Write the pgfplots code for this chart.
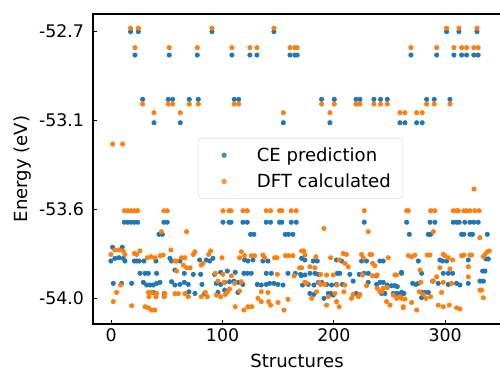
\documentclass[border=0pt]{standalone}
\usepackage{fontspec}
\setmainfont{DejaVu Sans}
\usepackage{pgfplots}
\usepackage{pgfplotstable}
\pgfplotsset{compat=1.18}
\definecolor{tabblue}{HTML}{1F77B4}
\definecolor{taborange}{HTML}{FF7F0E}

\pgfplotstableread{
x y
17.4 -52.700
24.3 -52.700
90.5 -52.700
146.2 -52.700
301.3 -52.700
312.4 -52.700
328.6 -52.700
21.3 -52.814
52.1 -52.814
77.3 -52.814
108.4 -52.814
124.6 -52.814
130.9 -52.814
160.6 -52.814
165.0 -52.814
167.1 -52.814
269.3 -52.814
292.4 -52.814
307.9 -52.814
314.8 -52.814
319.3 -52.814
325.8 -52.814
329.7 -52.814
28.2 -53.030
51.2 -53.030
55.2 -53.030
70.1 -53.030
78.2 -53.030
110.5 -53.030
114.5 -53.030
189.0 -53.030
200.4 -53.030
219.9 -53.030
223.5 -53.030
236.0 -53.030
242.0 -53.030
248.0 -53.030
283.4 -53.030
290.2 -53.030
304.3 -53.030
38.4 -53.144
62.0 -53.144
154.6 -53.144
196.5 -53.144
259.4 -53.144
263.9 -53.144
274.4 -53.144
279.4 -53.144
11.7 -53.629
14.7 -53.629
17.7 -53.629
20.7 -53.629
23.7 -53.629
47.3 -53.629
50.3 -53.629
100.4 -53.629
105.8 -53.629
107.6 -53.629
118.3 -53.629
122.2 -53.629
139.2 -53.629
143.1 -53.629
151.2 -53.629
153.3 -53.629
161.7 -53.629
166.2 -53.629
227.3 -53.629
265.4 -53.629
286.4 -53.629
290.8 -53.629
307.3 -53.629
310.3 -53.629
312.6 -53.629
317.7 -53.629
322.3 -53.629
325.8 -53.629
329.7 -53.629
42.9 -53.688
45.9 -53.688
125.2 -53.688
128.2 -53.688
156.3 -53.688
159.3 -53.688
163.2 -53.688
267.8 -53.688
284.9 -53.688
287.0 -53.688
314.8 -53.688
316.8 -53.688
322.3 -53.688
324.6 -53.688
337.9 -53.688
1.2 -53.751
9.9 -53.751
-0.3 -53.818
3.3 -53.805
6.9 -53.802
10.8 -53.805
12.3 -53.818
20.7 -53.818
22.8 -53.818
25.2 -53.818
29.4 -53.818
40.2 -53.818
52.7 -53.805
54.2 -53.818
61.7 -53.818
25.8 -53.878
30.3 -53.878
33.3 -53.878
40.8 -53.878
57.2 -53.862
65.6 -53.878
73.7 -53.883
1.8 -53.927
9.3 -53.927
18.3 -53.927
28.8 -53.922
31.8 -53.935
34.8 -53.935
37.8 -53.935
40.8 -53.927
43.8 -53.922
54.2 -53.919
57.2 -53.935
61.7 -53.932
65.6 -53.922
69.2 -53.932
37.8 -53.971
47.6 -53.976
69.8 -53.968
75.2 -53.976
79.4 -53.813
85.4 -53.813
88.4 -53.818
91.4 -53.805
119.8 -53.813
122.8 -53.818
127.3 -53.813
136.3 -53.818
140.8 -53.818
80.3 -53.883
92.9 -53.883
98.3 -53.873
104.3 -53.867
111.4 -53.873
119.2 -53.878
122.2 -53.878
125.8 -53.878
139.3 -53.878
143.8 -53.878
158.8 -53.878
165.3 -53.878
170.7 -53.890
81.5 -53.932
94.4 -53.927
98.3 -53.932
101.9 -53.922
106.3 -53.919
110.2 -53.916
114.4 -53.922
118.3 -53.932
131.2 -53.932
134.8 -53.935
139.3 -53.932
142.3 -53.927
146.2 -53.927
149.8 -53.932
154.3 -53.935
83.9 -53.976
95.9 -53.971
101.9 -53.960
113.8 -53.971
171.0 -53.805
174.0 -53.813
181.5 -53.818
185.1 -53.818
202.4 -53.813
206.9 -53.818
224.9 -53.818
229.4 -53.818
241.4 -53.818
244.4 -53.818
170.1 -53.883
174.0 -53.886
178.5 -53.878
183.0 -53.878
186.0 -53.883
203.0 -53.878
205.4 -53.878
214.4 -53.883
222.8 -53.883
227.0 -53.878
230.9 -53.878
238.4 -53.890
260.8 -53.873
171.9 -53.935
177.0 -53.932
182.1 -53.935
186.0 -53.922
189.0 -53.922
193.5 -53.932
198.0 -53.935
202.4 -53.932
207.8 -53.932
217.4 -53.916
230.9 -53.922
238.4 -53.932
241.4 -53.922
244.4 -53.922
248.0 -53.935
251.9 -53.938
254.9 -53.938
257.0 -53.943
178.5 -53.976
182.1 -53.981
195.0 -53.976
197.1 -53.976
199.5 -53.984
219.8 -53.976
222.8 -53.981
242.9 -53.976
245.9 -53.976
253.4 -53.976
256.4 -53.976
259.4 -53.976
262.3 -53.976
191.1 -54.000
275.9 -53.818
295.3 -53.813
297.7 -53.818
301.3 -53.818
320.8 -53.813
336.7 -53.808
338.8 -53.808
260.9 -53.878
278.9 -53.878
298.3 -53.878
302.8 -53.878
306.7 -53.878
333.7 -53.867
335.8 -53.867
270.8 -53.927
273.8 -53.932
275.9 -53.927
288.8 -53.916
293.8 -53.927
302.8 -53.932
310.3 -53.927
313.3 -53.935
320.8 -53.927
331.3 -53.916
334.3 -53.916
260.9 -53.971
263.0 -53.976
278.9 -53.971
281.9 -53.971
284.9 -53.971
278.9 -53.997
}\cedata

\pgfplotstableread{
x y
17.4 -52.683
24.3 -52.683
90.5 -52.683
146.2 -52.683
301.3 -52.683
312.4 -52.683
328.6 -52.683
21.3 -52.778
52.1 -52.778
77.3 -52.778
108.4 -52.778
124.6 -52.778
130.9 -52.778
160.6 -52.778
165.0 -52.778
167.1 -52.778
269.3 -52.778
292.4 -52.778
307.9 -52.778
314.8 -52.778
319.3 -52.778
325.8 -52.778
329.7 -52.778
28.2 -53.053
51.2 -53.053
55.2 -53.053
70.1 -53.053
78.2 -53.053
110.5 -53.053
114.5 -53.053
189.0 -53.053
200.4 -53.053
219.9 -53.053
223.5 -53.053
236.0 -53.053
242.0 -53.053
248.0 -53.053
283.4 -53.053
290.2 -53.053
304.3 -53.053
38.4 -53.095
62.0 -53.095
154.6 -53.095
196.5 -53.095
259.4 -53.095
263.9 -53.095
274.4 -53.095
279.4 -53.095
1.3 -53.248
10.2 -53.248
325.9 -53.467
11.7 -53.573
14.7 -53.573
17.7 -53.573
20.7 -53.573
23.7 -53.573
47.3 -53.573
50.3 -53.573
100.4 -53.573
105.8 -53.573
107.6 -53.573
118.3 -53.573
122.2 -53.573
139.2 -53.573
143.1 -53.573
151.2 -53.573
153.3 -53.573
161.7 -53.573
166.2 -53.573
227.3 -53.573
265.4 -53.573
266.9 -53.573
287.0 -53.573
290.8 -53.573
307.3 -53.573
310.3 -53.573
311.8 -53.573
316.8 -53.573
319.2 -53.573
322.3 -53.573
326.7 -53.573
330.6 -53.573
45.0 -53.675
67.7 -53.675
230.9 -53.675
289.4 -53.675
191.1 -53.659
331.2 -53.704
-0.3 -53.786
3.3 -53.764
6.9 -53.764
10.8 -53.769
12.3 -53.786
20.7 -53.781
22.8 -53.786
25.8 -53.769
32.4 -53.802
35.7 -53.797
39.3 -53.802
43.8 -53.792
46.7 -53.789
53.6 -53.764
57.2 -53.818
58.7 -53.818
63.2 -53.802
66.2 -53.802
73.7 -53.786
75.2 -53.773
64.7 -53.838
67.7 -53.851
70.7 -53.851
58.7 -53.867
8.4 -53.935
4.8 -53.971
33.3 -53.971
36.3 -53.971
40.8 -53.976
48.2 -53.976
33.9 -53.992
40.2 -53.992
47.6 -53.992
57.2 -53.977
60.2 -53.977
66.2 -53.977
69.2 -53.992
1.8 -54.016
18.3 -54.036
30.3 -54.041
33.3 -54.046
36.3 -54.057
39.3 -54.057
89.3 -53.769
87.5 -53.786
82.4 -53.829
80.9 -53.838
116.8 -53.773
99.5 -53.802
115.3 -53.802
119.8 -53.792
125.8 -53.792
128.8 -53.792
136.3 -53.789
137.8 -53.802
146.8 -53.802
148.9 -53.802
156.4 -53.792
159.4 -53.792
163.3 -53.792
93.5 -53.878
100.4 -53.883
107.9 -53.890
149.2 -53.883
164.2 -53.890
169.2 -53.851
95.9 -53.916
101.3 -53.922
110.8 -53.927
116.8 -53.919
84.5 -53.971
80.9 -53.992
86.3 -53.992
94.4 -53.984
98.3 -53.992
102.5 -53.981
106.3 -53.955
104.3 -53.968
115.3 -53.964
131.8 -54.000
134.8 -53.968
140.8 -53.971
111.4 -54.041
119.2 -54.057
122.8 -54.041
126.4 -54.041
134.8 -54.016
141.4 -54.016
143.2 -54.033
149.8 -54.020
155.2 -54.057
158.8 -54.005
171.0 -53.769
173.1 -53.769
174.0 -53.789
183.9 -53.797
197.1 -53.802
208.4 -53.781
211.4 -53.786
204.8 -53.813
209.9 -53.829
212.9 -53.846
224.9 -53.786
226.4 -53.802
232.4 -53.786
233.9 -53.786
234.8 -53.829
236.9 -53.841
248.9 -53.802
254.9 -53.886
256.4 -53.886
171.0 -53.851
178.5 -53.846
183.0 -53.851
188.1 -53.883
193.5 -53.886
199.5 -53.886
225.8 -53.886
234.8 -53.890
239.0 -53.886
174.0 -53.922
175.5 -53.927
186.9 -53.922
188.1 -53.932
192.0 -53.932
203.0 -53.935
209.9 -53.935
229.4 -53.938
239.0 -53.951
241.4 -53.968
244.4 -53.951
248.0 -53.948
180.0 -54.000
184.5 -53.968
195.0 -53.992
201.0 -53.976
209.0 -53.968
215.9 -54.000
217.4 -53.981
221.9 -53.992
223.4 -53.981
242.9 -53.968
253.4 -53.984
256.4 -54.000
260.8 -54.000
193.5 -54.033
202.4 -54.016
204.8 -54.041
247.4 -54.016
250.4 -54.033
262.3 -54.046
266.9 -53.792
269.9 -53.797
272.9 -53.789
283.9 -53.789
286.4 -53.789
298.3 -53.786
299.8 -53.792
302.8 -53.802
306.7 -53.813
314.8 -53.792
316.9 -53.789
322.3 -53.789
323.8 -53.789
335.8 -53.786
337.9 -53.773
339.7 -53.769
334.3 -53.797
277.4 -53.862
295.3 -53.851
304.3 -53.857
320.8 -53.846
292.4 -53.895
320.8 -53.895
278.0 -53.922
289.4 -53.916
298.3 -53.922
305.8 -53.927
331.3 -53.960
332.8 -53.960
334.3 -53.997
259.4 -53.992
263.9 -54.003
269.9 -54.020
276.8 -53.968
280.4 -53.981
282.8 -54.000
287.0 -53.992
296.8 -53.971
262.4 -54.041
274.4 -54.057
293.8 -54.033
298.3 -54.041
303.7 -54.033
310.3 -54.046
313.3 -54.052
}\dftdata

\begin{document}
\begin{tikzpicture}
\begin{axis}[
  scale only axis,
  width=293.76pt, height=223.2pt,
  xmin=-16.4, xmax=350.2,
  ymin=-54.125, ymax=-52.614,
  axis line style={line width=1pt},
  xtick={0,100,200,300},
  xticklabels={0,100,200,300},
  ytick={-54.0,-53.5667,-53.1333,-52.7},
  yticklabels={-54.0,-53.6,-53.1,-52.7},
  xtick pos=bottom, ytick pos=left,
  tick align=inside,
  major tick length=3.2pt,
  tick style={black, line width=0.9pt},
  ticklabel style={font=\fontsize{12.5}{15}\selectfont},
  yticklabel style={xshift=-3pt},
  label style={font=\fontsize{13}{15.6}\selectfont},
  xlabel={Structures},
  xlabel style={yshift=-2pt},
  ylabel={Energy (eV)},
  ylabel style={yshift=-1.5pt},
  legend style={at={(0.257,0.6)}, anchor=north west,
    draw=black!15, rounded corners=2.5pt, fill=white, fill opacity=0.8, text opacity=1,
    font=\fontsize{13}{15.6}\selectfont, inner xsep=8.7pt, inner ysep=6.5pt, row sep=7.5pt,
    nodes={inner sep=0pt}},
  legend image code/.code={\path[draw=none] (0pt,0pt) -- (33.6pt,0pt); \draw[#1,only marks] plot coordinates {(10pt,0pt)};},
  legend cell align=left,
]
\addplot[only marks, mark=*, mark size=1.6pt, mark options={draw=tabblue, fill=tabblue}] table[x=x,y=y] {\cedata};
\addlegendentry{CE prediction}
\addplot[only marks, mark=*, mark size=1.6pt, mark options={draw=taborange, fill=taborange}] table[x=x,y=y] {\dftdata};
\addlegendentry{DFT calculated}
\end{axis}
\pgfresetboundingbox
\path[use as bounding box] (-66.96pt,-34.56pt) rectangle (293.04pt,233.28pt);
\end{tikzpicture}
\end{document}
